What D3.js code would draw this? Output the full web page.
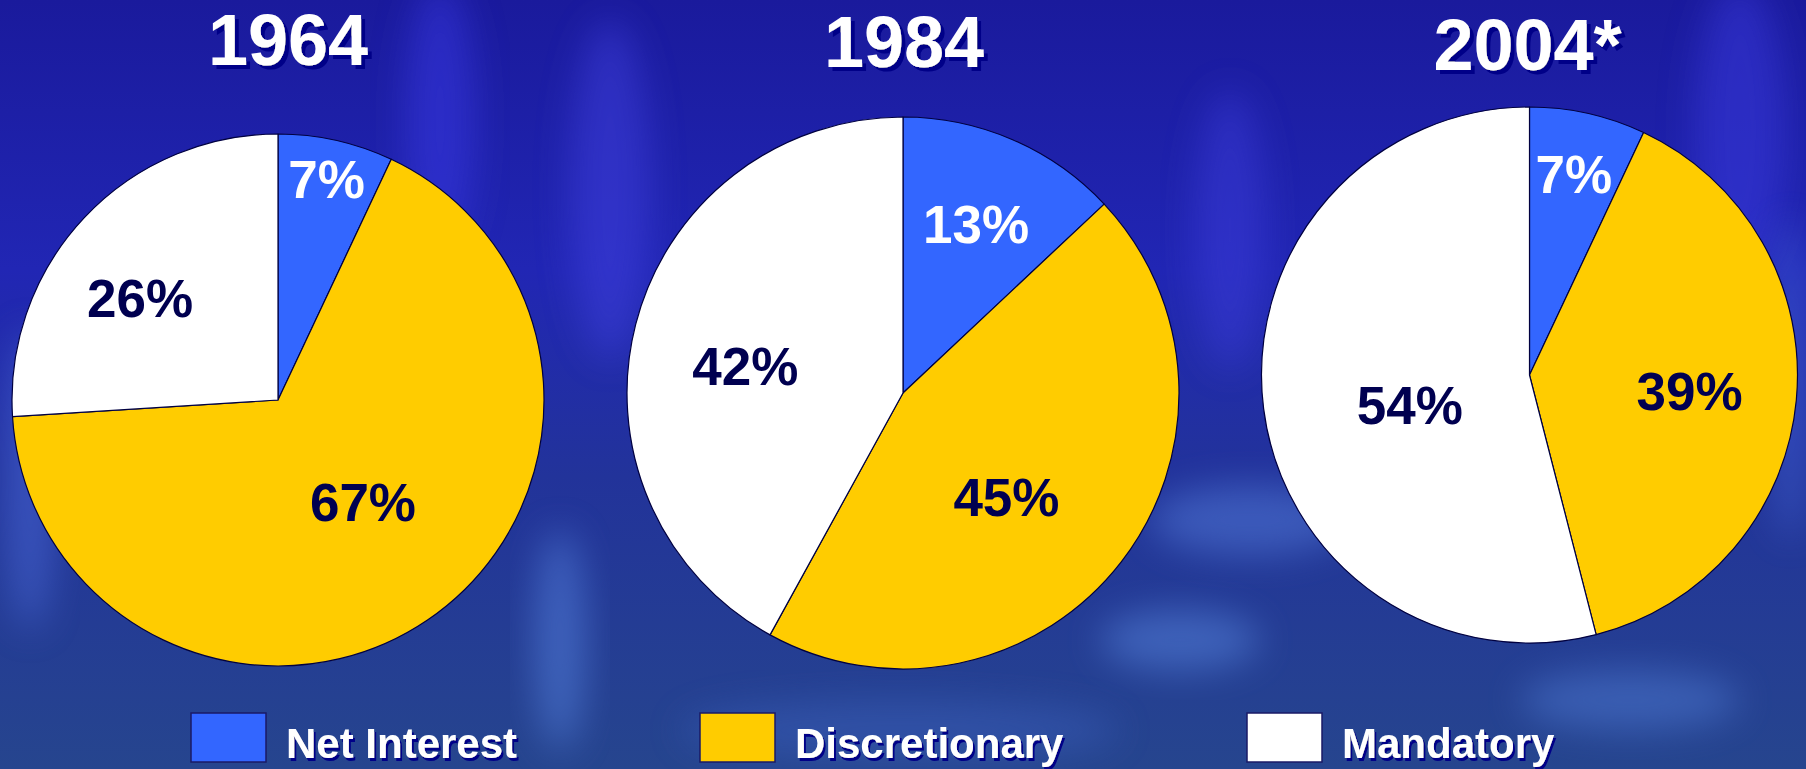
<!DOCTYPE html>
<html lang="en">
<head>
    <meta charset="UTF-8">
    <title>Budget Composition</title>
    <script src="https://d3js.org/d3.v7.min.js"></script>
    <style>
        html, body { margin: 0; padding: 0; overflow: hidden; background: #1d2aa0; }
        svg { display: block; font-family: "Liberation Sans", Arial, Helvetica, sans-serif; }
    </style>
</head>
<body>
    <div id="chart"></div>

    <script>
        // values
        const years = ["1964", "1984", "2004*"];
        const categories = ["Net Interest", "Discretionary", "Mandatory"];
        const netInterest = [7, 13, 7];
        const discretionary = [67, 45, 39];
        const mandatory = [26, 42, 54];
        const sliceColors = ["#3366ff", "#ffcc00", "#ffffff"];
        const labelColors = ["#ffffff", "#000050", "#000050"];

        const width = 1806, height = 769;

        // pie placement
        const pies = [
            { cx: 278, cy: 400, r: 266, titleDx: 10, titleY: 65 },
            { cx: 903, cy: 393, r: 276, titleDx: 1, titleY: 67 },
            { cx: 1529.5, cy: 375, r: 268, titleDx: -2, titleY: 70 }
        ];
        // label nudges: [angle offset in degrees, fraction of radius]
        const labelNudge = [
            [[-0.2, 0.85], [-5.5, 0.50], [-6.7, 0.645]],
            [[0, 0.667], [7.2, 0.53], [-4.6, 0.58]],
            [[-0.2, 0.77], [0.3, 0.60], [-6.8, 0.46]]
        ];
        const legendX = [191, 700, 1247];

        const svg = d3.select("#chart")
            .append("svg")
            .attr("width", width)
            .attr("height", height);

        // background, a rough take on the blue "flame" backdrop
        const defs = svg.append("defs");
        const bg = defs.append("linearGradient")
            .attr("id", "bg").attr("x1", 0).attr("y1", 0).attr("x2", 0).attr("y2", 1);
        bg.append("stop").attr("offset", "0%").attr("stop-color", "#1a1a9c");
        bg.append("stop").attr("offset", "35%").attr("stop-color", "#2126b4");
        bg.append("stop").attr("offset", "62%").attr("stop-color", "#22339a");
        bg.append("stop").attr("offset", "100%").attr("stop-color", "#26458e");

        defs.append("filter").attr("id", "blur")
            .attr("x", "-50%").attr("y", "-50%").attr("width", "200%").attr("height", "200%")
            .append("feGaussianBlur").attr("stdDeviation", 18);

        // text drop shadows
        defs.append("filter").attr("id", "shadowBig")
            .append("feDropShadow")
            .attr("dx", 4).attr("dy", 4).attr("stdDeviation", 0)
            .attr("flood-color", "#000088").attr("flood-opacity", 1);
        defs.append("filter").attr("id", "shadowSmall")
            .append("feDropShadow")
            .attr("dx", 2).attr("dy", 3).attr("stdDeviation", 0)
            .attr("flood-color", "#000088").attr("flood-opacity", 1);

        svg.append("rect")
            .attr("width", width).attr("height", height)
            .attr("fill", "url(#bg)");

        const glow = svg.append("g");
        const glows = [
            [440, 120, 35, 140, "#3a3ae8", 0.5],
            [610, 190, 40, 170, "#4545e6", 0.45],
            [1230, 230, 35, 140, "#4040e0", 0.45],
            [1740, 130, 45, 150, "#3a3ae0", 0.5],
            [30, 480, 25, 150, "#4f6fe0", 0.5],
            [560, 640, 25, 110, "#5a88e6", 0.5],
            [1250, 520, 100, 35, "#5a86e4", 0.45],
            [1180, 640, 80, 30, "#5f90ea", 0.45],
            [1630, 700, 110, 30, "#5a8ae6", 0.4],
            [1790, 380, 20, 160, "#4a70e0", 0.45],
            [900, 730, 220, 30, "#3d62c0", 0.45]
        ];
        glow.selectAll("ellipse")
            .data(glows)
            .join("ellipse")
            .attr("cx", d => d[0]).attr("cy", d => d[1])
            .attr("rx", d => d[2]).attr("ry", d => d[3])
            .attr("fill", d => d[4]).attr("opacity", d => d[5])
            .attr("filter", "url(#blur)");

        const pie = d3.pie().sort(null).value(d => d);

        years.forEach((year, i) => {
            const p = pies[i];
            const values = [netInterest[i], discretionary[i], mandatory[i]];
            const arcs = pie(values);
            const arc = d3.arc().innerRadius(0).outerRadius(p.r);

            const g = svg.append("g").attr("transform", `translate(${p.cx},${p.cy})`);

            g.selectAll("path")
                .data(arcs)
                .join("path")
                .attr("d", arc)
                .attr("fill", (d, j) => sliceColors[j])
                .attr("stroke", "#000040")
                .attr("stroke-width", 1.2)
                .attr("stroke-linejoin", "round");

            g.selectAll("text.pct")
                .data(arcs)
                .join("text")
                .attr("class", "pct")
                .attr("x", (d, j) => {
                    const a = (d.startAngle + d.endAngle) / 2 + labelNudge[i][j][0] * Math.PI / 180;
                    return Math.sin(a) * p.r * labelNudge[i][j][1];
                })
                .attr("y", (d, j) => {
                    const a = (d.startAngle + d.endAngle) / 2 + labelNudge[i][j][0] * Math.PI / 180;
                    return -Math.cos(a) * p.r * labelNudge[i][j][1];
                })
                .attr("dy", "0.36em")
                .attr("text-anchor", "middle")
                .attr("font-size", 53)
                .attr("font-weight", "bold")
                .attr("fill", (d, j) => labelColors[j])
                .text(d => d.data + "%");

            // title
            svg.append("text")
                .attr("x", p.cx + p.titleDx)
                .attr("y", p.titleY)
                .attr("font-size", 72)
                .attr("font-weight", "bold")
                .attr("text-anchor", "middle")
                .attr("fill", "#ffffff")
                .attr("filter", "url(#shadowBig)")
                .text(year);
        });

        // legend (nudged up a little so the descenders stay inside the frame)
        const item = svg.append("g").selectAll("g")
            .data(categories)
            .join("g")
            .attr("transform", (d, i) => `translate(${legendX[i]},713)`);

        item.append("rect")
            .attr("width", 75)
            .attr("height", 49)
            .attr("fill", (d, i) => sliceColors[i])
            .attr("stroke", "#1a1a66")
            .attr("stroke-width", 1.5);

        item.append("text")
            .attr("x", 95).attr("y", 45)
            .attr("font-size", 42).attr("font-weight", "bold")
            .attr("fill", "#ffffff")
            .attr("filter", "url(#shadowSmall)")
            .text(d => d);
    </script>
</body>
</html>
